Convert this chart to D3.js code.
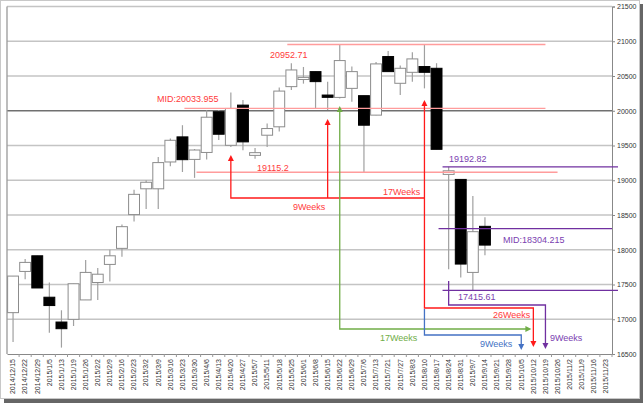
<!DOCTYPE html>
<html><head><meta charset="utf-8">
<script src="https://cdn.jsdelivr.net/npm/d3@7"></script>
<style>body{margin:0;background:#fff}</style></head>
<body><svg id="c" width="644" height="404"></svg>
<script>
const dates = ["2014/12/15","2014/12/22","2014/12/29","2015/1/5","2015/1/13","2015/1/19","2015/1/26","2015/2/2","2015/2/9","2015/2/16","2015/2/23","2015/3/2","2015/3/9","2015/3/16","2015/3/23","2015/3/30","2015/4/6","2015/4/13","2015/4/20","2015/4/27","2015/5/7","2015/5/11","2015/5/18","2015/5/25","2015/6/1","2015/6/8","2015/6/15","2015/6/22","2015/6/29","2015/7/6","2015/7/13","2015/7/21","2015/7/27","2015/8/3","2015/8/10","2015/8/17","2015/8/24","2015/8/31","2015/9/7","2015/9/14","2015/9/21","2015/9/28","2015/10/5","2015/10/12","2015/10/19","2015/10/26","2015/11/2","2015/11/9","2015/11/16","2015/11/23"];
const opens  = [17095,17688,17913,17317,16960,16999,17278,17529,17789,18020,18506,18877,18877,19263,19624,19300,19400,19986,19503,20081,19358,19648,19769,20347,20450,20563,20226,20192,20322,20217,19937,20780,20395,20553,20636,20611,19084,19012,17674,18337];
const highs  = [17621,17866,17913,17529,17129,17511,17851,17736,18000,18362,18863,19000,19335,19600,19792,19450,20006,20010,20264,20153,19465,19816,20336,20684,20630,20563,20419,20952.71,20636,20217,20700,20861,20650,20843,20946,20684,19192.82,19012,18772,18468];
const lows   = [16672,17576,17450,16807,16592,16903,17278,17278,17544,17899,18405,18588,18588,19200,19119,19034,19300,19580,19480,19430,19311,19480,19700,20300,20390,20033,20010,20178,20130,19115.2,19937,20563,20226,20419,20322,19445,17721,17602,17415.61,17920];
const closes = [17621,17818,17450,17197,16864,17511,17674,17648,17913,18332,18797,18971,19254,19575,19296,19435,19907,19662,20033,19552,19397,19744,20283,20587,20480,20419,20193,20722,20563,19792,20674,20563,20611,20746,20553,19445,19136,17794,18260,18067];
const yTicks = [16500,17000,17500,18000,18500,19000,19500,20000,20500,21000,21500];
const redLevels = [20952.71,20033.955,19115.2];
const purpleLevels = [19192.82,18304.215,17415.61];

const svg = d3.select('#c');
// outer frame with shadow
svg.append('rect').attr('x',4).attr('y',4).attr('width',639).attr('height',399).attr('fill','#666');
svg.append('rect').attr('x',0.5).attr('y',0.5).attr('width',639).attr('height',398).attr('fill','#fff').attr('stroke','#c8c8c8');

const x = d3.scaleBand().domain(dates).range([7,612]).padding(0);
const y = d3.scaleLinear().domain([16500,21500]).range([354,6.5]);
const cx = i => x(dates[i]) + x.bandwidth()/2;

// gridlines
svg.append('g').selectAll('line').data(yTicks.filter(v=>v>16500)).join('line')
  .attr('x1',7).attr('x2',612).attr('y1',d=>y(d)).attr('y2',d=>y(d))
  .attr('stroke',d=>d===20000?'#707070':'#c4c4c4').attr('stroke-width',1.3);

// axes
const yAxis = d3.axisRight(y).tickValues(yTicks).tickSize(3).tickFormat(d3.format('d'));
const gy = svg.append('g').attr('transform','translate(612,0)').call(yAxis);
gy.select('.domain').attr('stroke','#888');
gy.selectAll('.tick line').attr('stroke','#888');
gy.selectAll('text').attr('font-family','Liberation Sans, Arial').attr('font-size',7).attr('fill','#333').attr('x',5);

const xAxis = d3.axisBottom(x).tickSize(0).tickSizeOuter(0);
const gx = svg.append('g').attr('transform','translate(0,354)').call(xAxis);
gx.select('.domain').attr('stroke','#888');
gx.selectAll('text').attr('font-family','Liberation Sans, Arial').attr('font-size',7).attr('fill','#333')
  .attr('transform','rotate(-90)').attr('text-anchor','end').attr('x',-5).attr('y',0).attr('dy','0.33em');
// tick marks at band boundaries
svg.append('g').selectAll('line').data(dates).join('line')
  .attr('x1',d=>x(d)+x.bandwidth()).attr('x2',d=>x(d)+x.bandwidth()).attr('y1',354).attr('y2',357).attr('stroke','#999');
svg.append('line').attr('x1',7).attr('x2',7).attr('y1',y(21500)).attr('y2',354).attr('stroke','#999').attr('stroke-width',1.3);

// candles
const bw = x.bandwidth()*0.9;
const cg = svg.append('g');
opens.forEach((o,i)=>{
  const c = closes[i];
  cg.append('line').attr('x1',cx(i)).attr('x2',cx(i)).attr('y1',y(highs[i])).attr('y2',y(lows[i])).attr('stroke','#a0a0a0').attr('stroke-width',1.2);
  const top = y(Math.max(o,c)), bot = y(Math.min(o,c));
  const up = c>=o;
  cg.append('rect').attr('x',cx(i)-bw/2).attr('y',top).attr('width',bw).attr('height',Math.max(1.5,bot-top))
    .attr('fill',up?'#fff':'#000').attr('stroke',up?'#8c8c8c':'#000').attr('stroke-width',1);
});

// level lines
const lvl = (v,x1,x2,col)=>svg.append('line').attr('x1',x1).attr('x2',x2).attr('y1',y(v)).attr('y2',y(v)).attr('stroke',col).attr('stroke-width',1.4);
const pink = '#ff9c9c', purple = '#7030a0', red = '#ff1a1a', green = '#70ad47', blue = '#4472c4';
lvl(redLevels[0], x(dates[23])+2, cx(44), pink);
lvl(redLevels[1], x(dates[14])+8, cx(44), pink);
lvl(redLevels[2], x(dates[15])+8, cx(45), pink);
lvl(purpleLevels[0], cx(35)+6, 618, purple);
lvl(purpleLevels[1], cx(35)+2, 612, purple);
lvl(purpleLevels[2], cx(35)+6, 618, purple);

// arrows
const ar = (x0,y0,dir,col)=>{
  const s=3, h=6;
  let p;
  if(dir==='up') p=[[x0,y0],[x0-s,y0+h],[x0+s,y0+h]];
  else if(dir==='down') p=[[x0,y0],[x0-s,y0-h],[x0+s,y0-h]];
  else p=[[x0,y0],[x0-h,y0-s],[x0-h,y0+s]];
  svg.append('path').attr('d','M'+p.join('L')+'Z').attr('fill',col);
};
const path = (pts,col)=>svg.append('path').attr('d',d3.line()(pts)).attr('fill','none').attr('stroke',col).attr('stroke-width',1.3);

const yh = 198, yr = 308;
path([[cx(18),157],[cx(18),yh],[cx(34),yh]],red);
path([[cx(26),121],[cx(26),yh]],red);
path([[cx(34),102],[cx(34),yr],[cx(43),yr],[cx(43),343]],red);
ar(cx(18),155,'up',red); ar(cx(26),119,'up',red); ar(cx(34),100,'up',red); ar(cx(43),347,'down',red);

path([[cx(27),108],[cx(27),329],[cx(43)-4,329]],green);
ar(cx(27),106,'up',green); ar(cx(43)-2,329,'right',green);

path([[cx(34),yr+1],[cx(34),335],[cx(42),335],[cx(42),347]],blue);
ar(cx(42),350,'down',blue);

path([[cx(36),281],[cx(36),305],[cx(44),305],[cx(44),346]],purple);
ar(cx(44),349,'down',purple);

// labels
const lab = (t,x0,y0,col)=>svg.append('text').text(t).attr('x',x0).attr('y',y0).attr('fill',col)
  .attr('font-family','Liberation Sans, Arial').attr('font-size',9);
const redT = '#ff3b3b', purT = '#7a40b0';
lab('20952.71',270,58,redT);
lab('MID:20033.955',157,102,redT);
lab('19115.2',257,171,redT);
lab('9Weeks',293,210,redT);
lab('17Weeks',383,195,redT);
lab('26Weeks',493,318,redT);
lab('19192.82',449,162,purT);
lab('MID:18304.215',503,243,purT);
lab('17415.61',458,300,purT);
lab('9Weeks',550,341,purT);
lab('17Weeks',380,341,green);
lab('9Weeks',480,347,blue);
</script></body></html>
